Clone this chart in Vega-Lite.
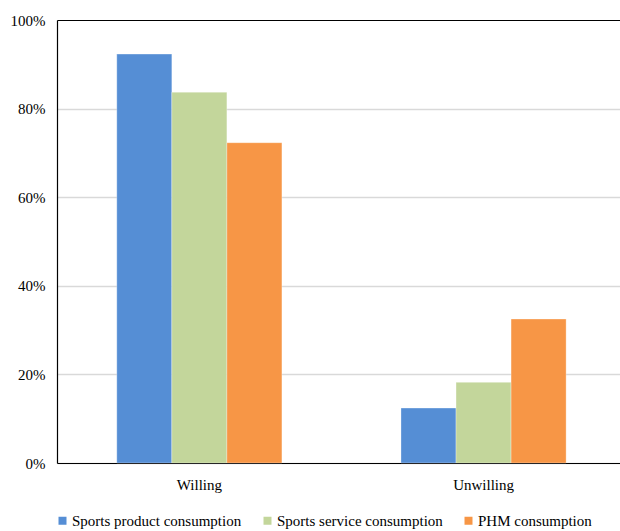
{
  "$schema": "https://vega.github.io/schema/vega-lite/v6.json",
  "autosize": "none",
  "width": 563,
  "height": 443,
  "padding": {"left": 57, "top": 20, "right": 0, "bottom": 68},
  "background": "white",
  "config": {
    "font": "Liberation Serif",
    "view": {"stroke": null}
  },
  "data": {
    "values": [
      {"group": "Willing", "type": "Sports product consumption", "value": 0.923},
      {"group": "Willing", "type": "Sports service consumption", "value": 0.837},
      {"group": "Willing", "type": "PHM consumption", "value": 0.723},
      {"group": "Unwilling", "type": "Sports product consumption", "value": 0.124},
      {"group": "Unwilling", "type": "Sports service consumption", "value": 0.182},
      {"group": "Unwilling", "type": "PHM consumption", "value": 0.325}
    ]
  },
  "mark": {"type": "bar", "stroke": "white", "strokeWidth": 0.5, "strokeOpacity": 0.6},
  "encoding": {
    "x": {
      "field": "group", "type": "nominal", "sort": ["Willing", "Unwilling"],
      "scale": {"paddingInner": 0.419, "paddingOuter": 0.2, "align": 0.526},
      "axis": {"title": null, "labelAngle": 0, "labelFontSize": 15, "labelColor": "black", "labelPadding": 14, "ticks": false, "domainColor": "black", "domainWidth": 1.2}
    },
    "xOffset": {"field": "type", "type": "nominal", "sort": ["Sports product consumption", "Sports service consumption", "PHM consumption"], "scale": {"paddingInner": 0, "paddingOuter": 0}},
    "y": {
      "field": "value", "type": "quantitative",
      "scale": {"domain": [0, 1], "nice": false},
      "axis": {"title": null, "format": ".0%", "values": [0, 0.2, 0.4, 0.6, 0.8, 1], "labelFontSize": 15, "labelColor": "black", "labelPadding": 12, "ticks": false, "domainColor": "black", "domainWidth": 1.2,
        "gridColor": {"condition": {"test": "datum.value === 1", "value": "black"}, "value": "#d9d9d9"},
        "gridWidth": {"condition": {"test": "datum.value === 1", "value": 1.2}, "value": 1.5}}
    },
    "color": {
      "field": "type", "type": "nominal",
      "sort": ["Sports product consumption", "Sports service consumption", "PHM consumption"],
      "scale": {"domain": ["Sports product consumption", "Sports service consumption", "PHM consumption"], "range": ["#558ed5", "#c3d69b", "#f79646"]},
      "legend": {"title": null, "orient": "none", "direction": "horizontal", "legendX": -2, "legendY": 493, "symbolType": "square", "symbolSize": 64, "symbolStrokeWidth": 0, "labelFontSize": 15, "labelColor": "black", "labelOffset": 2, "labelLimit": 0, "columnPadding": 18}
    }
  }
}
